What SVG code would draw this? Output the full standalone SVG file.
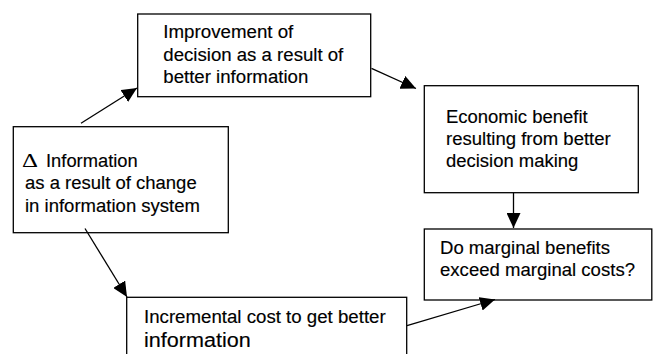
<svg xmlns="http://www.w3.org/2000/svg" width="653" height="354" viewBox="0 0 653 354">
<style>
.box{fill:#fff;stroke:#000;stroke-width:1.3}
.t{font-family:"Liberation Sans",Arial,sans-serif;font-size:17.5px;fill:#000;stroke:#000;stroke-width:0.15}
.conn line{stroke:#000;stroke-width:1.3;fill:none;marker-end:url(#ah)}
</style>
<defs>
<marker id="ah" markerUnits="userSpaceOnUse" markerWidth="15" markerHeight="14" refX="15" refY="7" orient="auto">
<path d="M0,0 L15,7 L0,14 z" fill="#000"/>
</marker>
</defs>
<rect width="653" height="354" fill="#fff"/>
<g id="n-improvement">
<rect class="box" x="137.7" y="14" width="233" height="82.7"/>
<text class="t" x="163.3" y="38" textLength="130" lengthAdjust="spacingAndGlyphs">Improvement of</text>
<text class="t" x="163.3" y="60.7" textLength="180" lengthAdjust="spacingAndGlyphs">decision as a result of</text>
<text class="t" x="163.3" y="83" textLength="145" lengthAdjust="spacingAndGlyphs">better information</text>
</g>
<g id="n-economic">
<rect class="box" x="424.3" y="85.7" width="214" height="107"/>
<text class="t" x="446" y="123.3" textLength="141.7" lengthAdjust="spacingAndGlyphs">Economic benefit</text>
<text class="t" x="446" y="144.7" textLength="164.7" lengthAdjust="spacingAndGlyphs">resulting from better</text>
<text class="t" x="446" y="166.7" textLength="132.3" lengthAdjust="spacingAndGlyphs">decision making</text>
</g>
<g id="n-delta">
<rect class="box" x="13.3" y="126.7" width="215" height="106"/>
<text x="22" y="166.7" font-family="Liberation Serif,'Times New Roman',serif" font-size="19" textLength="16" lengthAdjust="spacingAndGlyphs">Δ</text>
<text class="t" x="46" y="166.7" textLength="91.7" lengthAdjust="spacingAndGlyphs">Information</text>
<text class="t" x="25" y="188.5" textLength="171.7" lengthAdjust="spacingAndGlyphs">as a result of change</text>
<text class="t" x="25" y="211.7" textLength="175" lengthAdjust="spacingAndGlyphs">in information system</text>
</g>
<g id="n-marginal">
<rect class="box" x="424.3" y="229" width="227.5" height="71"/>
<text class="t" x="440" y="253.5" textLength="170" lengthAdjust="spacingAndGlyphs">Do marginal benefits</text>
<text class="t" x="440" y="276.2" textLength="195" lengthAdjust="spacingAndGlyphs">exceed marginal costs?</text>
</g>
<g id="n-incremental">
<rect class="box" x="126.7" y="297.3" width="280" height="70"/>
<text class="t" x="144" y="322.7" textLength="241.7" lengthAdjust="spacingAndGlyphs">Incremental cost to get better</text>
<text class="t" x="144" y="346.7" style="font-size:20px" textLength="106.7" lengthAdjust="spacingAndGlyphs">information</text>
</g>
<g id="connectors" class="conn">
<line x1="81" y1="123.3" x2="137" y2="88"/>
<line x1="371.5" y1="68.3" x2="416" y2="88.5"/>
<line x1="513.5" y1="193" x2="513.5" y2="228"/>
<line x1="85" y1="228.5" x2="127" y2="297"/>
<line x1="407" y1="325.7" x2="495" y2="299.5"/>
</g>
</svg>
